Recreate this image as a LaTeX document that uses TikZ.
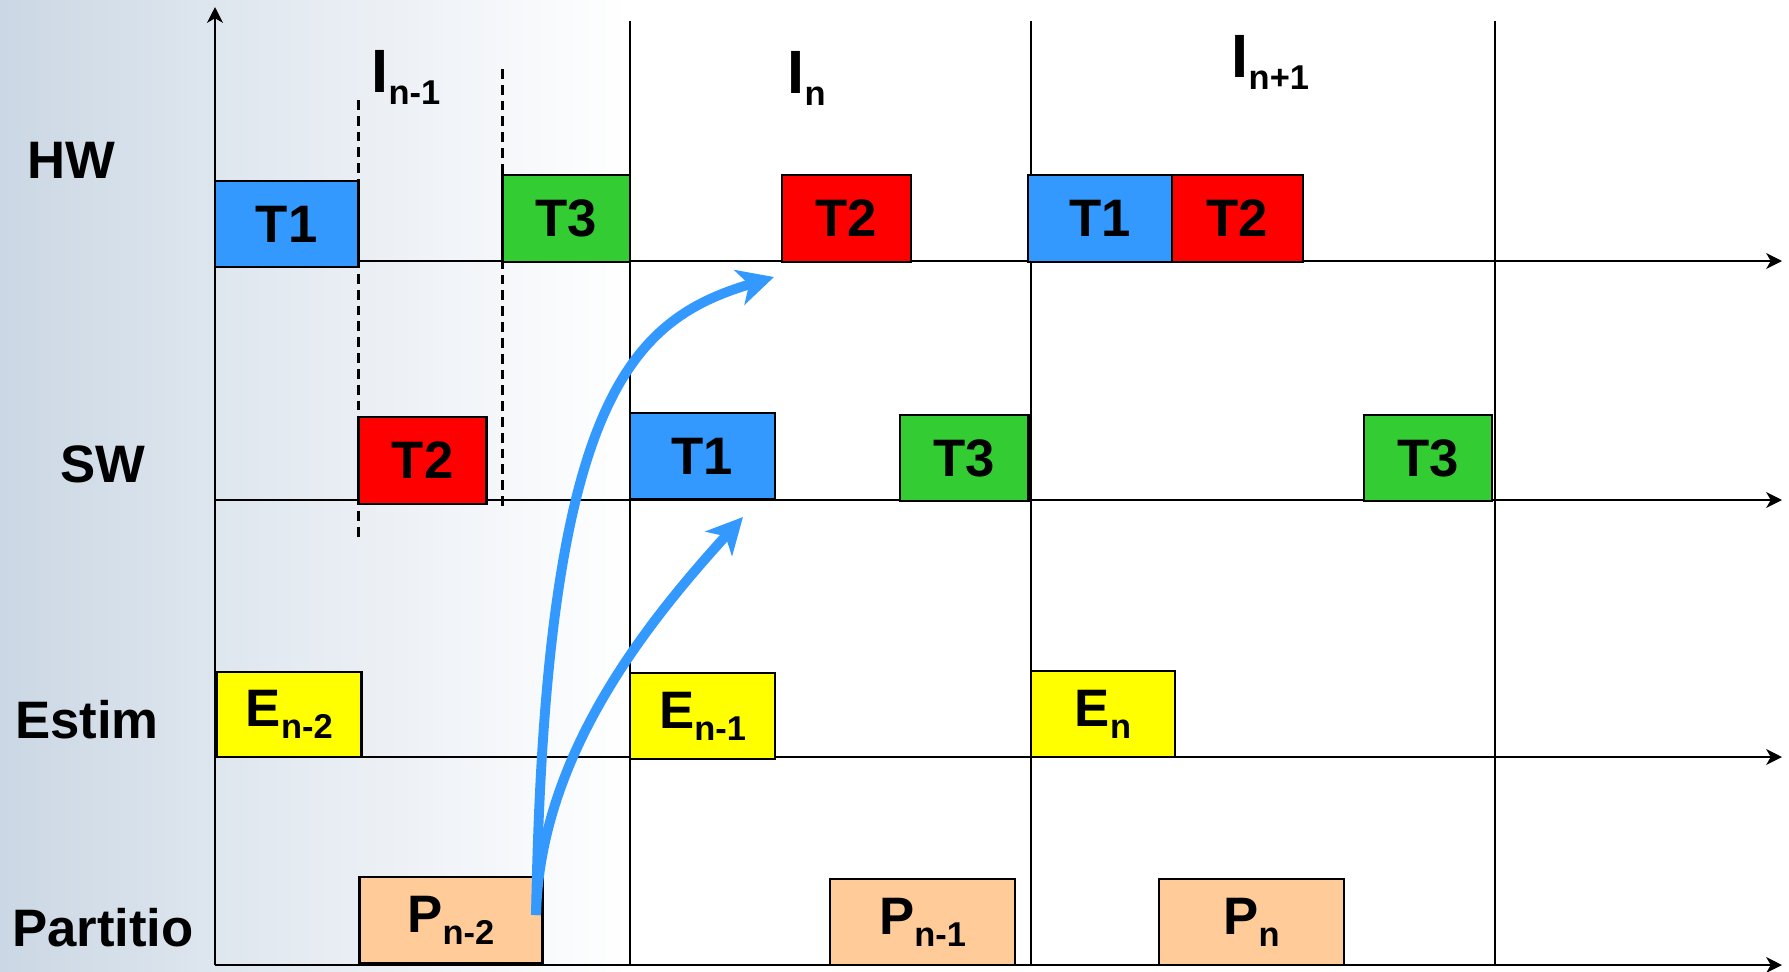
\documentclass[tikz,border=0pt]{standalone}
\usepackage{fontspec}
\setmainfont{Liberation Sans}
\usetikzlibrary{arrows.meta}
\definecolor{tblue}{RGB}{51,153,255}
\definecolor{tred}{RGB}{255,0,0}
\definecolor{tgreen}{RGB}{51,204,51}
\definecolor{tyellow}{RGB}{255,255,0}
\definecolor{tpeach}{RGB}{255,204,153}
\definecolor{flowblue}{RGB}{51,153,255}
\definecolor{bgA}{RGB}{203,215,228}
\definecolor{bgB}{RGB}{222,230,238}
\definecolor{bgC}{RGB}{241,244,248}
\newcommand{\lsub}[1]{\raisebox{-3.5pt}{\fontsize{9.8}{10}\selectfont #1}}
\begin{document}
\begin{tikzpicture}[x=0.1mm,y=-0.1mm,
  tbox/.style={draw=black, line width=0.75pt, inner sep=0pt, font=\fontsize{15}{18}\selectfont\bfseries},
  axisline/.style={line width=0.6pt, -{Stealth[length=4.5pt,width=4.5pt,inset=1.3pt]}},
  gridline/.style={line width=0.6pt},
  dashline/.style={line width=0.7pt, dash pattern=on 2.8pt off 1.7pt},
  flow/.style={draw=flowblue, line width=2.8pt, -{Stealth[length=3.6mm,width=3.6mm,inset=1mm]}},
  lab/.style={anchor=base, inner sep=0pt, font=\fontsize{15}{18}\selectfont\bfseries},
  ilab/.style={anchor=base west, inner sep=0pt, font=\fontsize{17.4}{20}\selectfont\bfseries}]
\useasboundingbox (0,0) rectangle (1789,971);
% background
\shade[left color=bgA, right color=bgB] (0,0) rectangle (216,971);
\shade[left color=bgB, right color=bgC] (215,0) rectangle (451,971);
\shade[left color=bgC, right color=white] (450,0) rectangle (630,971);
% coordinates
\coordinate (O) at (215,965);
\coordinate (Ytop) at (215,7);
\coordinate (hwL) at (215,261); \coordinate (hwR) at (1782,261);
\coordinate (swL) at (215,500); \coordinate (swR) at (1782,500);
\coordinate (esL) at (215,757); \coordinate (esR) at (1782,757);
\coordinate (ptR) at (1782,965);
\coordinate (v1t) at (630.4,21); \coordinate (v1b) at (630.4,965);
\coordinate (v2t) at (1031,21); \coordinate (v2b) at (1031,965);
\coordinate (v3t) at (1495,21); \coordinate (v3b) at (1495,965);
\coordinate (d1t) at (358.5,100); \coordinate (d1b) at (358.5,540);
\coordinate (d2t) at (502.6,69); \coordinate (d2b) at (502.6,508);
% grid
\draw[gridline] (v1t) -- (v1b);
\draw[gridline] (v2t) -- (v2b);
\draw[gridline] (v3t) -- (v3b);
\draw[dashline] (d1t) -- (d1b);
\draw[dashline] (d2t) -- (d2b);
\draw[axisline] (O) -- (Ytop);
\draw[axisline] (hwL) -- (hwR);
\draw[axisline] (swL) -- (swR);
\draw[axisline] (esL) -- (esR);
\draw[axisline] (O) -- (ptR);
% row labels
\node[lab] (lhw) at (71.5,178) {HW};
\node[lab] (lsw) at (102.75,482) {SW};
\node[lab] (les) at (87,738) {Estim};
\node[lab] (lpt) at (103,946.7) {Partitio};
% interval labels
\node[ilab] (In1) at (371,92) {I\lsub{n-1}};
\node[ilab] (In) at (787,93) {I\lsub{n}};
\node[ilab] (Inp1) at (1231,77) {I\lsub{n+1}};
% HW row
\node[tbox, fill=tblue, minimum width=14.35mm, minimum height=8.6mm] (hwT1) at (286.75,224) {T1};
\node[tbox, fill=tgreen, minimum width=12.74mm, minimum height=8.7mm] (hwT3) at (566.3,218.5) {T3};
\node[tbox, fill=tred, minimum width=12.9mm, minimum height=8.7mm] (hwT2) at (846.5,218.5) {T2};
\node[tbox, fill=tblue, minimum width=14.4mm, minimum height=8.7mm] (hwT1b) at (1100,218.5) {T1};
\node[tbox, fill=tred, minimum width=13.1mm, minimum height=8.7mm] (hwT2b) at (1237.5,218.5) {T2};
% SW row
\node[tbox, fill=tred, minimum width=12.81mm, minimum height=8.7mm] (swT2) at (422.55,460.5) {T2};
\node[tbox, fill=tblue, minimum width=14.5mm, minimum height=8.6mm] (swT1) at (702.5,456) {T1};
\node[tbox, fill=tgreen, minimum width=12.85mm, minimum height=8.6mm] (swT3) at (964.25,458) {T3};
\node[tbox, fill=tgreen, minimum width=12.8mm, minimum height=8.6mm] (swT3b) at (1428,458) {T3};
% Estim row
\node[tbox, fill=tyellow, minimum width=14.46mm, minimum height=8.5mm] (En2) at (289.3,714.5) {E\lsub{n-2}};
\node[tbox, fill=tyellow, minimum width=14.5mm, minimum height=8.6mm] (En1) at (702.5,716) {E\lsub{n-1}};
\node[tbox, fill=tyellow, minimum width=14.4mm, minimum height=8.6mm] (En) at (1103,714) {E\lsub{n}};
% Partition row
\node[tbox, fill=tpeach, minimum width=18.3mm, minimum height=8.6mm] (Pn2) at (450.9,920) {P\lsub{n-2}};
\node[tbox, fill=tpeach, minimum width=18.5mm, minimum height=8.6mm] (Pn1) at (922.5,922) {P\lsub{n-1}};
\node[tbox, fill=tpeach, minimum width=18.5mm, minimum height=8.6mm] (Pn) at (1251.5,922) {P\lsub{n}};
% flow arrows
\coordinate (src) at (536,915);
\coordinate (tipA) at (774,277);
\coordinate (tipB) at (743,517);
\draw[flow] (src) .. controls (545,400) and (630,320) .. (tipA);
\draw[flow] (src) .. controls (540,760) and (640,630) .. (tipB);
\end{tikzpicture}
\end{document}
